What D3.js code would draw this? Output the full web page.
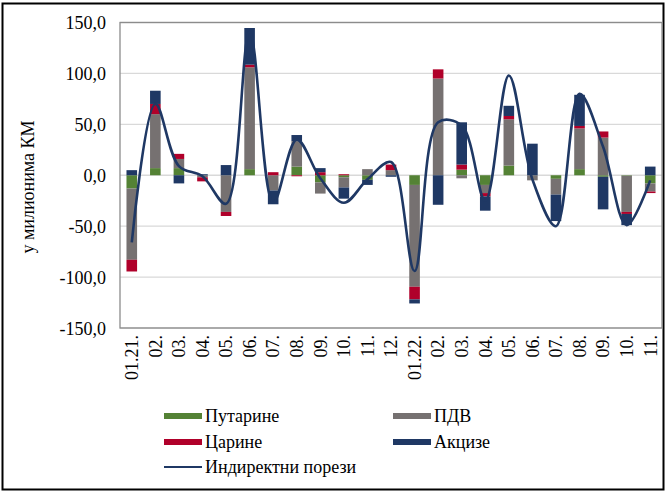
<!DOCTYPE html>
<html><head><meta charset="utf-8">
<script src="https://cdn.jsdelivr.net/npm/d3@7"></script>
<style>body{margin:0;background:#fff;} svg{display:block;font-family:"Liberation Serif","Times New Roman",serif;}</style>
</head><body><svg id="c" width="667" height="492"></svg>
<script>
const categories = ["01.21.","02.","03.","04.","05.","06.","07.","08.","09.","10.","11.","12.","01.22.","02.","03.","04.","05.","06.","07.","08.","09.","10.","11."];
const putarine   = [-13, 7, 7, 0, 0, 6, 0, 8.5, -7, -2, -4.5, 0, -9.5, 0, 5.5, -9.5, 9.5, 0, -3.5, 6, -1.5, -0.5, -8];
const pdv        = [-70, 53, 9, -2, -36, 100, -15, 25, -11, -10, 6, 5, -100, 95, -3, -8, 45.5, -5, -15.5, 40, 37, -35.5, -8];
const carine     = [-11.5, 10, 5, -4, -4, 2.6, 3, -1, 3, 1, 0, 5.5, -12.4, 9, 5, -3.3, 3.2, 0, 0, 2.4, 6, -2, -1.5];
const akcize     = [5, 13, -8, 1, 10, 36, -13.5, 6, 4, -11, -5, -1.5, -4, -29, 41.5, -14, 10, 31, -26, 30.6, -32, -11, 8.5];
const indirektni = [-66, 70, 9, -1, -28, 141, -27, 35, -3, -27, -4, 13, -94, 52, 49, -25, 98, -4, -50, 80, 28, -49, -5];
const yTicks = [-150, -100, -50, 0, 50, 100, 150];
const seriesNames = ["Путарине", "ПДВ", "Царине", "Акцизе"];
const lineName = "Индиректни порези";
const colors = {"Путарине":"#548235","ПДВ":"#767171","Царине":"#b0002a","Акцизе":"#1f3864"};
const lineColor = "#1f3864";

const svg = d3.select("#c");
const L = 120, R = 662, T = 22.5, B = 328;
const x = d3.scaleBand().domain(d3.range(categories.length)).range([L, R]).paddingInner(0.55).paddingOuter(0.275);
const y = d3.scaleLinear().domain([-150, 150]).range([B, T]);

// outer frame
svg.append("rect").attr("x",2.5).attr("y",3.5).attr("width",661).attr("height",486)
  .attr("fill","none").attr("stroke","#000").attr("stroke-width",2);

// gridlines
svg.append("g").selectAll("line").data(yTicks).join("line")
  .attr("x1",L).attr("x2",R).attr("y1",d=>y(d)).attr("y2",d=>y(d))
  .attr("stroke","#d9d9d9").attr("stroke-width",1.3);

// plot border
svg.append("rect").attr("x",L).attr("y",T).attr("width",R-L).attr("height",B-T)
  .attr("fill","none").attr("stroke","#8c8c8c").attr("stroke-width",1.3);

// data table + diverging stack
const table = categories.map((c,i)=>({i, "Путарине":putarine[i], "ПДВ":pdv[i], "Царине":carine[i], "Акцизе":akcize[i]}));
const stack = d3.stack().keys(seriesNames).offset(d3.stackOffsetDiverging)(table);

svg.append("g").selectAll("g").data(stack).join("g")
  .attr("fill", s=>colors[s.key])
  .selectAll("rect").data(s=>s).join("rect")
  .attr("x", d=>x(d.data.i)).attr("width", x.bandwidth())
  .attr("y", d=>y(Math.max(d[0],d[1])))
  .attr("height", d=>Math.abs(y(d[0])-y(d[1])));

// line
const line = d3.line().x((d,i)=>x(i)+x.bandwidth()/2).y(d=>y(d)).curve(d3.curveCatmullRom.alpha(0.5));
svg.append("path").datum(indirektni).attr("d", line).attr("fill","none")
  .attr("stroke", lineColor).attr("stroke-width", 2.6);

// y axis
const yAxis = d3.axisLeft(y).tickValues(yTicks).tickSize(0).tickPadding(0)
  .tickFormat(d=>d3.format(".1f")(d).replace(".", ",").replace("\u2212", "-"));
const gy = svg.append("g").attr("transform",`translate(${L-14},0)`).call(yAxis);
gy.select(".domain").remove();
gy.selectAll("text").attr("font-size",18).attr("font-family","Liberation Serif").attr("fill","#000").attr("dy","0.35em");

// x axis
const xAxis = d3.axisBottom(x).tickFormat(i=>categories[i]).tickSize(0).tickPadding(0);
const gx = svg.append("g").attr("transform",`translate(0,${B})`).call(xAxis);
gx.select(".domain").remove();
gx.selectAll("text").attr("font-size",18).attr("font-family","Liberation Serif").attr("fill","#000")
  .attr("transform","rotate(-90)").attr("text-anchor","end").attr("x",-7).attr("y",0).attr("dy","0.35em");

// y title
svg.append("text").attr("transform","translate(34,187) rotate(-90)").attr("text-anchor","middle")
  .attr("font-size",18).text("у милионима КМ");

// legend
const leg = [
  {name:"Путарине", x:164, y:416, type:"rect"},
  {name:"ПДВ", x:393, y:416, type:"rect"},
  {name:"Царине", x:164, y:442, type:"rect"},
  {name:"Акцизе", x:393, y:442, type:"rect"},
  {name:lineName, x:164, y:467, type:"line"}
];
const lg = svg.append("g").selectAll("g").data(leg).join("g").attr("transform", d=>`translate(${d.x},${d.y})`);
lg.filter(d=>d.type==="rect").append("rect").attr("x",0).attr("y",-3).attr("width",38).attr("height",6).attr("fill",d=>colors[d.name]);
lg.filter(d=>d.type==="line").append("line").attr("x1",0).attr("x2",38).attr("y1",0).attr("y2",0).attr("stroke",lineColor).attr("stroke-width",2.2);
lg.append("text").attr("x",41).attr("y",0).attr("dy","0.35em").attr("font-size",18).text(d=>d.name);
</script></body></html>
